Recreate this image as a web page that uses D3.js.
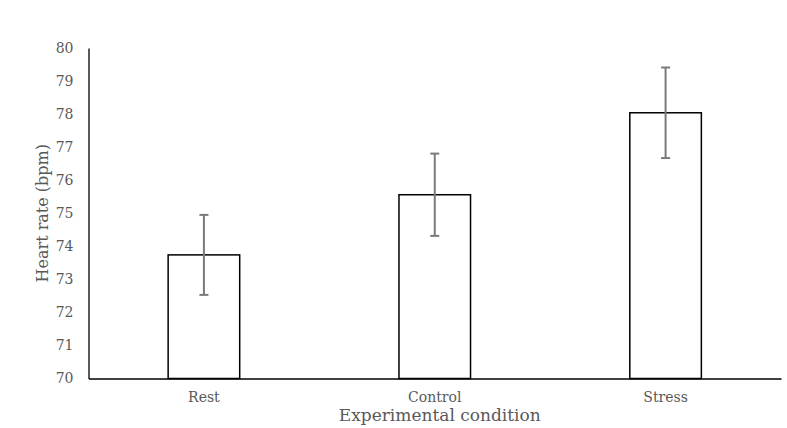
<!DOCTYPE html>
<html><head><meta charset="utf-8">
<script src="https://cdn.jsdelivr.net/npm/d3@7"></script>
<style>body{margin:0;background:#fff}svg{display:block}text{font-family:"DejaVu Serif","Liberation Serif",serif;fill:#595959}</style>
</head><body><svg id="c" width="787" height="428"></svg>
<script>
const categories = ["Rest", "Control", "Stress"];
const means = [73.74, 75.56, 78.04];
const errors = [1.21, 1.245, 1.37];
const yTicks = [70, 71, 72, 73, 74, 75, 76, 77, 78, 79, 80];
const yLabel = "Heart rate (bpm)";
const xLabel = "Experimental condition";

const svg = d3.select("#c");
const m = {l: 88.5, r: 781, t: 48, b: 378.5};
const x = d3.scaleBand().domain(categories).range([m.l, m.r]).paddingInner(0.69).paddingOuter(0.345);
const y = d3.scaleLinear().domain([70, 80]).range([m.b, m.t]);

const yAx = svg.append("g").attr("transform", `translate(${m.l},0)`)
  .call(d3.axisLeft(y).tickValues(yTicks).tickSize(0).tickPadding(15).tickFormat(d3.format("d")));
yAx.select(".domain").attr("stroke", "#000").attr("stroke-width", 1.3);
yAx.selectAll("text").style("font-size", "14px").attr("fill", "#595959");

svg.selectAll("rect.bar").data(categories).join("rect").attr("class", "bar")
  .attr("x", d => x(d)).attr("width", x.bandwidth())
  .attr("y", (d, i) => y(means[i])).attr("height", (d, i) => y(70) - y(means[i]))
  .attr("fill", "#fff").attr("stroke", "#000").attr("stroke-width", 1.5);

const xAx = svg.append("g").attr("transform", `translate(0,${m.b})`)
  .call(d3.axisBottom(x).tickSize(0).tickPadding(14));
xAx.select(".domain").attr("stroke", "#000").attr("stroke-width", 1.3);
xAx.selectAll("text").style("font-size", "14px").attr("fill", "#595959");

const eb = svg.append("g").attr("stroke", "#7a7a7a").attr("stroke-width", 2);
categories.forEach((c, i) => {
  const cx = x(c) + x.bandwidth() / 2;
  const hi = y(means[i] + errors[i]), lo = y(means[i] - errors[i]);
  eb.append("line").attr("x1", cx).attr("x2", cx).attr("y1", hi).attr("y2", lo);
  eb.append("line").attr("x1", cx - 4.5).attr("x2", cx + 4.5).attr("y1", hi).attr("y2", hi);
  eb.append("line").attr("x1", cx - 4.5).attr("x2", cx + 4.5).attr("y1", lo).attr("y2", lo);
});

svg.append("text").attr("transform", `translate(48,${(m.t + m.b) / 2}) rotate(-90)`)
  .attr("text-anchor", "middle").style("font-size", "16px").text(yLabel);
svg.append("text").attr("x", (m.l + m.r) / 2 + 5).attr("y", 421)
  .attr("text-anchor", "middle").style("font-size", "17px").text(xLabel);
</script></body></html>
